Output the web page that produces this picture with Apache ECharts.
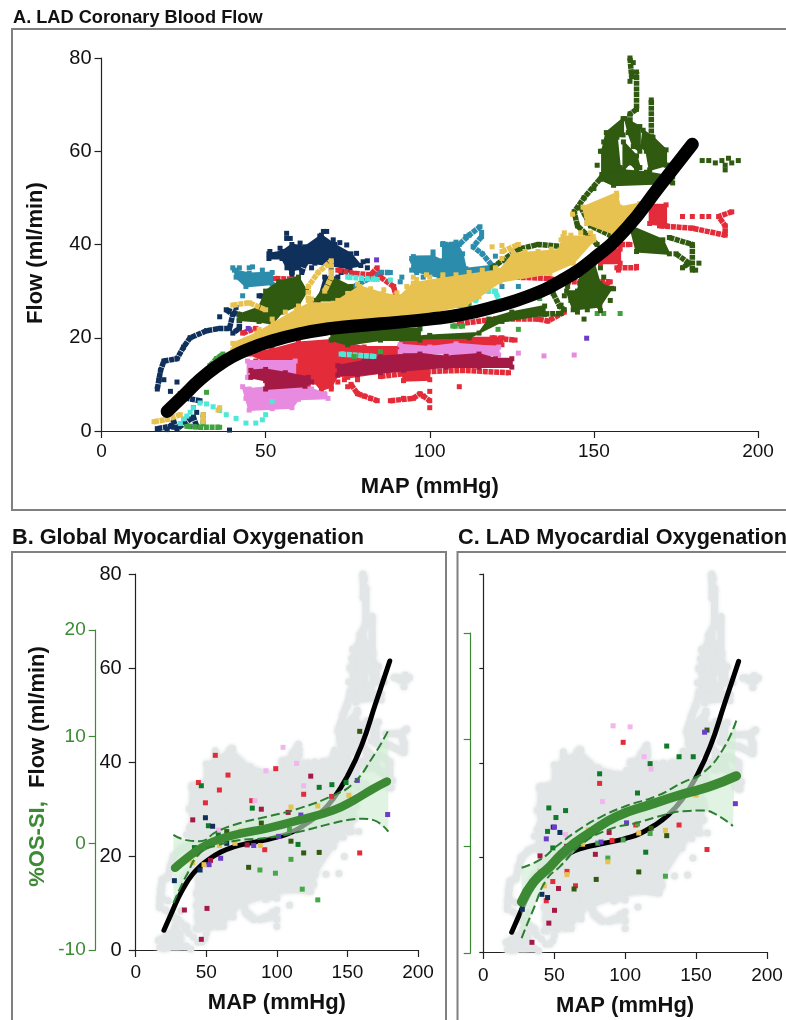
<!DOCTYPE html>
<html><head><meta charset="utf-8">
<style>html,body{margin:0;padding:0;background:#fff}#c{width:786px;height:1020px}</style>
<script src="https://cdn.jsdelivr.net/npm/echarts@6/dist/echarts.min.js"></script>
</head><body><div id="c"></div>
<script>
// ---------- Panel A: flow vs MAP (x = MAP, y = flow) ----------
const flowCurve = [[20,4.2],[25,7.6],[30,11],[35,13.8],[40,16],[45,17.6],[50,18.9],[60,20.8],[70,22],[80,22.7],[90,23.3],[100,24],[110,25],[120,26.7],[130,28.9],[140,32.2],[150,37],[160,43.5],[170,52.5],[175,57],[180,61.5]];

const navyBlobs = [[[51,38],[55,38.5],[58,40],[62,39.5],[67,42],[71,40],[76,38],[79,35.5],[75,35],[70,35.5],[65,36],[62,36],[60,35],[58,34.2],[56.5,35],[55,37],[51,37]],[[66,28],[68,33],[72,33],[72,29]],[[71,18],[80,17.5],[82,15.5],[72,15.5]]];
const navyTrails = [[[17,9],[17.5,11],[18,13],[19,15],[23,15.5],[25,18],[27,20],[32,21.5],[36,22],[39,22],[40,25],[38,26],[42,25],[42,22],[40,21]],[[17,0.5],[21,1],[22,2],[23,0.5],[28,3],[29,1]],[[24,8],[26,7],[30,6.5]],[[48,29],[55,28.5]],[[58,37],[58,33.5]],[[62,36],[61,34]],[[73,36],[73,34]]];
const navyDots = [[51.3,38.5],[54.4,39.2],[56.4,41.3],[56.4,42.4],[57.5,41.3],[60.5,40.3],[64.5,39.9],[66.5,41.8],[67.6,42.8],[68.6,42.8],[70.6,41],[72.6,40.4],[74.7,39.9],[77.7,38.1],[79.7,36.3],[81,35],[81,36.5],[39,0.2],[21,8.5],[23,10.5],[19,11],[27,1],[64,35],[70,34.8],[75.7,34.5],[36,24.5],[41,26.5],[20,0.3],[22,0.8],[28,5],[29,4]];

const tealBlobs = [[[40.5,34.5],[45,33.8],[52,34],[52,31.5],[44,31],[41,33]],[[95,37.4],[101,37.5],[104,36.5],[104,40],[108,40.5],[110,38],[111,34.8],[120,35.5],[119,33.5],[103,33],[94.5,34.5]]];
const tealTrails = [[[104,40],[109,40],[112,42],[115.3,43.8]],[[115.8,41.7],[113.2,39.5],[116,38],[119,35.5]],[[77,31],[85,34],[88,34]],[[94.5,37],[96,34]]];
const tealDots = [[43,29],[45,35],[46,35.2],[91,32],[120,37.5],[123,36.5],[125,35],[91.5,33],[98,33],[106,31.8],[117,31.5],[122,31],[127,31],[101,38.4],[104,40.2],[111,41.7],[40,35],[42,35],[49,34.5],[115.8,42.6]];

const redBlobs = [[[45,16.5],[52,17.5],[60,19],[70,19.5],[80,18],[97,18],[97,13.5],[85,12.5],[75,11.5],[72,12],[70,9.5],[67,8.8],[65,10.5],[60,10.5],[55,13],[50,15]],[[91,20],[100,20],[110,20],[122,20],[122,18.5],[100,18.5],[91,18]],[[91,18],[99,18],[100,11],[92,10.8]],[[167,48.5],[172,48.5],[172,44],[167,44.5]],[[152,39],[158,39],[158,36],[152,36]]];
const redTrails = [[[76,10],[78,8],[80,7.5],[82,7],[84,6.5]],[[88,6.5],[95,7],[97,8],[100,6.5]],[[85,11.7],[97,12.7],[110,13],[124,12.5]],[[119,20],[126,19.5]],[[109,23],[120,24],[133,24],[136,23.6],[141,25.5]],[[126,33],[136,32.7],[142,32],[155,32],[150,29.5],[143,29]],[[157,35],[163,35]],[[158,40],[161,40]],[[170,44],[180,43.5],[190,42],[190,44],[188,46],[192,47]],[[72,34.5],[77,33.8],[82,33.5],[84,35]],[[53,32.7],[60,32.5]],[[43,21],[47,22]],[[85,33],[89,31],[90,28]],[[150,47],[150,45]]];
const redDots = [[47,15],[50,15],[52,15],[55,15],[58,15],[177,46],[180,46],[183,46],[185,46],[76,13],[78,11],[75,9.5],[98,7.5],[92,7],[100,8.5],[109,9.5],[100,5],[157.5,34.5],[163,35.3],[61,9.5],[63,10],[66,8],[68,7.8],[70,9],[72,10.5],[74,11],[57,11.5]];

const pinkBlobs = [[[43,9.5],[45,9],[60,10],[64,9],[68,8],[69,7],[60,6.8],[58,5],[45,4.5],[44,7]],[[44.5,15],[59,15],[59,11.5],[44.5,11.5]],[[91,18.5],[100,18],[108,18.7],[121,18],[121,16.3],[110,16.3],[100,16.8],[91,17]]];
const pinkDots = [[127,16.7],[134.8,16.1],[144,16.3],[46,5],[52,4.8],[65,7.5]];

const crimsonBlobs = [[[45.5,13],[50,13.2],[56,12.5],[63,11.5],[64,10.5],[62,9.6],[50,9],[50,10.8],[45.5,11.5]],[[72,12],[72,14],[80,15],[85,16],[97,16.5],[105,16],[115,16.5],[120,15.5],[125,15.5],[125,13.7],[115,13.7],[105,13.7],[92,13],[85,12.5],[78,12]]];

const cyanTrails = [[[73,16.5],[83,16]],[[91,21.7],[97,21.7]],[[114,28],[115,30],[120,30],[121,28]],[[75,33],[84,32.5]]];
const cyanDots = [[24,1.6],[25,2.6],[26,3.2],[27,4],[28,5],[30,6],[32,5.8],[34,5.2],[36,4.4],[38,3.5],[41,2.7],[44,1.7],[47,1.7],[49,2.4],[50,3.5],[88,32.4],[52,6.3]];

const greenTrails = [[[26,1],[30,0.8],[36,0.8]],[[31,1.5],[31,3.5]],[[33,14],[35,15.5],[37,16.5]],[[105,27],[112,27]],[[107,22.5],[110,22.5]]];
const greenDots = [[32,8.3],[120.8,21.8],[127,21.8],[133.5,28.4],[151,25.2],[153,25.2],[158,25.2],[77,16],[85,17]];

const purpleDots = [[83.8,36.7],[44.7,22],[147.8,19.9]];

const darkGreenBlobs = [[[42,25],[48,26.5],[50,30],[54,32],[60,33],[62.5,30],[60,27],[55,25.5],[52,23],[48,23.5],[42,23.8]],[[65,28],[70,33],[76,31],[78,29.5],[72,28]],[[70,21.5],[97,22],[97,19.5],[85,19.5],[75,18.5],[70,19.5]],[[92,20],[100,20.5],[115,21],[118,24],[125,25.5],[135,26.8],[135,25],[122,23.5],[112,20],[92,19.8]],
 [[153.8,64],[158.9,67],[158.9,63.5],[157,63],[158,56],[152.5,55],[152.5,60]],[[159.5,67],[164,65.3],[164,60],[162,61],[160.5,64]],[[165,64.5],[168,63],[172,60.3],[172,57],[167,56],[166,60],[164.5,61]],[[159,62],[163,59],[164,56.5],[163,56],[161,57.5],[159,56]],[[152.5,55],[158,56],[166,55.5],[174,54.5],[174,53.2],[156,52.7],[152,54]],
 [[161,44],[171,41],[173,38],[163,38.5]],[[145.7,31.7],[146,35.5],[150,36],[151.8,31.7],[155.4,30.6],[151.8,26.7],[143.7,26],[141.7,30],[145,30]]];
const darkGreenTrails = [[[161,80],[161.5,76],[163,77],[163,69],[161,68],[161,64]],[[167.5,71],[167.5,63]],[[153,55],[147,50],[144,47],[145,44],[148,42],[151,40]],[[173,41.5],[180,40],[180,34.5]],[[175,38],[179,36],[177,35]],[[119,35],[127,39],[133,40],[142,39.5]],[[146,48],[149,44],[155,42]],[[137.6,29.5],[139.6,26.7],[141,26]],[[128,25],[140,25.2]]];
const darkGreenDots = [[183,58],[185,58],[187,57.5],[189,58],[190,57],[191,58.5],[192,57.5],[194,58],[190,56],[181,34.5],[182,36],[147,24],[150,52],[153,60],[153,62],[161,75],[162,79],[173,57],[176,57],[158,56.5],[151,57],[152,60],[140,27],[142,31],[144,33],[146,34],[148,36.5],[150,37],[152,35],[153,33],[156,30.5],[155,28],[152,25.8],[148,26],[145,25.5],[143,28],[141,29]];

const goldBlobs = [[[40,17.4],[50.3,20.6],[60,22.5],[80.8,24],[97,25],[111,27],[115,28.8],[121.4,32],[136.6,33.8],[143.7,36],[150,41],[149.8,41.7],[140.6,41.7],[139.6,38.8],[125.4,38],[121.4,34.5],[104,32.7],[95,31.7],[90.9,28.8],[85.8,29.5],[78.7,31],[70.6,27.4],[63.5,27.4],[59.4,26],[52.3,23.1],[47.3,21],[40,18.8]],[[146.7,48],[156.9,51],[158,48],[164,48.8],[155.9,42.4],[147.8,44.5]]];
const goldTrails = [[[63,28],[63,31],[66,34],[70,36.5],[70,33],[68,30]],[[16,2],[20,2.5],[24,3.5]],[[40,27],[45,27.5],[50,26]],[[31,2],[31,3.5]],[[122,38.5],[127,40]]];
const goldDots = [[35.5,4.5],[36,5],[95,33],[99,33.5],[119,39.5],[122,39.8],[141,42.5],[143.5,46.5],[148,47.5],[151,48],[154,48],[157,50.5],[44,19.5],[48,21.8],[52,24],[56,25.5],[60,26.8],[64,28.3],[72,28],[75,29.5],[78,31.5],[82,30.5],[86,30.3],[90,29.6],[93,31],[96,32.5],[100,33],[104,33.5],[108,33.5],[112,34],[116,34.5],[120,35],[122,37],[125,38.8],[129,38.5],[133,38.5],[137,39],[140,41],[143,42],[146,42.5],[149,42.5]];

// Body of the pale cloud behind panels B and C
const grayBody = [[43,4.5],[62,5],[69,9],[93,11.3],[126,14],[127,16],[140,22],[155,28],[148,40],[142,42],[130,39],[119,39.6],[112,41],[100,37.5],[81,39],[67,42.5],[50,39.6],[50,36],[40,34.7],[38,30],[44,20],[43,12]];

// ---------- Panels B and C: %OS-SI readings on the green axis ----------
const bCenter = [[27.9,-2.3],[36,-1.4],[45.6,-0.5],[57.4,0.3],[74,0.9],[93,1.4],[116.4,2.2],[140,3.1],[154,4],[168,5.1],[178,5.8]];
const bUpper = [[26.7,0.8],[36,0.3],[45.6,0.2],[57.4,1.1],[74,1.9],[93,2.5],[116.4,3.3],[140,4.5],[154,5.6],[168,8.1],[179,10.6]];
const bLower = [[26.7,-5.6],[36,-3],[45.6,-0.9],[57.4,-0.2],[74,0.3],[93,0.5],[116.4,1.1],[140,1.9],[154,2.25],[161,2.3],[168,2.2],[179,1.1]];
const cCenter = [[27,-5.2],[35.2,-3.4],[47,-1.9],[58.7,-0.3],[75,1.25],[94,2.8],[117.4,3.9],[140.8,4.9],[159.6,5.6],[178.4,6.6]];
const cUpper = [[27,-2],[40,-1.25],[51.6,0],[65.7,1.4],[82,2.7],[101,3.8],[122,4.7],[140.8,6],[155,6.9],[169,9.1],[178.4,11.8]];
const cLower = [[27,-8.6],[35,-6],[44.6,-3.1],[54,-1.9],[70.4,0.3],[89,1.6],[108,2.2],[129,3],[140.8,3.3],[155,3.35],[164,3],[176,1.9]];

const bRed = [[56.4,8.25],[65.4,6.4],[59.3,5],[44.4,5.7],[49.4,3.8],[99.2,7],[119,4.6],[138.8,4.4],[91.4,-0.6],[158.7,-0.9],[82.2,4]];
const bCrimson = [[40.4,2.2],[89,3.2],[108,2.9],[124,6.3],[34.5,-6.25],[50.5,-6.1],[46.5,-9],[53,-1.6],[79,-0.15]];
const bDeepGreen = [[46.5,5.4],[51.5,1.65],[82.6,3.3],[130,5.25],[139,5.5],[149,5.7],[41.6,-0.4],[115,-0.1],[58.5,0.8]];
const bGreen = [[110,-1.5],[88,-2.5],[99,-2.8],[118,-4.3],[129,-5.3],[109,1.3]];
const bDarkGreen = [[158.7,10.5],[80,-2.25],[110,0.2],[119,-0.9],[130,-0.85],[64.5,1.1],[89,1.9]];
const bNavy = [[27.4,-3.5],[49.4,2.4],[54.5,1.6],[45.6,-2.5],[64.5,0]];
const bGold = [[40.4,-1.8],[43.4,-1],[48.4,-2],[59.3,-0.2],[70.4,0],[74.4,1.15],[88.3,-0.2],[110,3.4],[129,3.5],[151,4.5]];
const bPurple = [[157,5.9],[178.5,2.7],[83.6,-0.2],[101.3,0.65],[60.2,-1.4],[52,-2],[117,2.65]];
const bPink = [[104.4,9],[114,7.5],[92.3,6.8],[119,5.4],[84.5,4],[58.5,1.25]];

const cRed = [[98.6,9.75],[82,5.9],[138,2],[157.7,-0.3],[90.8,0.55],[59,-2.35],[49,-3.3],[65,-3.7],[44.4,-5.1],[107.5,2]];
const cCrimson = [[40,-0.9],[53,-3.95],[50.2,-6],[46.2,-7.2],[34.3,-9],[79,-0.75],[88.7,1.3],[58.7,0]];
const cDeepGreen = [[82,6.8],[46.2,3.6],[51.2,2.7],[58,3.35],[45.3,1.4],[49,-0.15],[108.7,5],[117.6,7.75],[129.3,9.4],[138,8.4],[148,8.4],[114.5,-0.55]];
const cGreen = [[128.4,-2.8],[87.8,-1.1],[117.6,1.2],[98.6,0.6],[80.7,0.3],[108.7,2.1]];
const cDarkGreen = [[157.7,10.9],[129.3,1],[109.6,-2.4],[79.6,-3.1],[64,-4],[118.3,1.7]];
const cNavy = [[27.5,-5.9],[45.3,-4.8],[41.3,-4.5],[54,1.3],[49.3,1.8]];
const cPurple = [[156,10.7],[177.7,4],[44.4,0.7],[50.2,1.8],[101,2.2],[116,4],[83,0.4]];
const cGold = [[150,4.8],[40,-2.35],[48.4,-2],[43,-3.7],[59,-2.65],[70,0.2],[74,1.55],[87.8,-1.45],[109.6,1.25],[128.4,1.5]];
const cPink = [[91.5,11.3],[103.5,11.2],[113.4,8.4],[118.3,7.25],[84,4.2],[58,1.1]];

const mapTicks = [0,50,100,150,200];
const flowTicks = [0,20,40,60,80];
const osTicks = [-10,0,10,20];

// ---------- styling ----------
const C = {navy:'#10305c',teal:'#2b8cab',red:'#e32b3a',pink:'#e88ae0',crimson:'#a51a45',cyan:'#4fe8d8',green:'#3ea33e',purple:'#6a3cc8',dark:'#2f5a10',gold:'#e8c250',black:'#000',lightPink:'#f2b5ee',deep:'#0e7a2a',osLine:'#3c8a34',osDash:'#2c7f30',gray:'#e2e6e6'};
const layers = [
 {color:C.navy,polys:navyBlobs,trails:navyTrails,dots:navyDots},
 {color:C.teal,polys:tealBlobs,trails:tealTrails,dots:tealDots},
 {color:C.red,polys:redBlobs,trails:redTrails,dots:redDots},
 {color:C.pink,polys:pinkBlobs,trails:[],dots:pinkDots},
 {color:C.crimson,polys:crimsonBlobs,trails:[],dots:[]},
 {color:C.cyan,polys:[],trails:cyanTrails,dots:cyanDots},
 {color:C.green,polys:[],trails:greenTrails,dots:greenDots},
 {color:C.purple,polys:[],trails:[],dots:purpleDots},
 {color:C.dark,polys:darkGreenBlobs,trails:darkGreenTrails,dots:darkGreenDots},
 {color:C.gold,polys:goldBlobs,trails:goldTrails,dots:goldDots}
];
const grayLayer = {polys:[grayBody],trails:[],dots:[]};
const FONT = '"Liberation Sans", Arial, sans-serif';

function cloudSeries(layer, axis, z, color, size, lineW, blur, dash, sym){
  const out = [];
  out.push({type:'custom',coordinateSystem:'cartesian2d',xAxisIndex:axis,yAxisIndex:axis,z:z,silent:true,animation:false,
    clip:false,data:[[0,0]],
    renderItem:function(params,api){
      const kids=[];
      layer.polys.forEach(p=>kids.push({type:'polygon',shape:{points:p.map(q=>api.coord(q))},style:{fill:color,stroke:color,lineWidth:2,shadowBlur:blur,shadowColor:color}}));
      layer.trails.forEach(p=>kids.push({type:'polyline',shape:{points:p.map(q=>api.coord(q))},style:{fill:null,stroke:color,lineWidth:lineW,lineJoin:'bevel',lineDash:dash,shadowBlur:blur,shadowColor:color}}));
      return {type:'group',children:kids};
    }});
  const pts=[];
  layer.polys.forEach(p=>p.forEach(q=>pts.push(q)));
  layer.trails.forEach(p=>p.forEach(q=>pts.push(q)));
  layer.dots.forEach(q=>pts.push(q));
  out.push({type:'scatter',xAxisIndex:axis,yAxisIndex:axis,z:z,silent:true,animation:false,symbol:sym,symbolSize:size,data:pts,itemStyle:{color:color,opacity:1,shadowBlur:blur,shadowColor:color},clip:false});
  return out;
}
function marks(data,color,ax){
  return {type:'scatter',xAxisIndex:ax,yAxisIndex:ax,z:30,silent:true,animation:false,symbol:'rect',symbolSize:5,data:data,itemStyle:{color:color,opacity:1}};
}
function line(data,color,width,ax,z,dash){
  return {type:'line',xAxisIndex:ax,yAxisIndex:ax,z:z,silent:true,animation:false,smooth:0.5,showSymbol:false,symbol:'none',data:data,lineStyle:{color:color,width:width,cap:dash?'butt':'round',type:dash?[9,4]:'solid'}};
}
function band(up,low,ax){
  return {type:'custom',coordinateSystem:'cartesian2d',xAxisIndex:ax,yAxisIndex:ax,z:22,silent:true,animation:false,data:[[0,0]],
    renderItem:function(params,api){
      const pts=up.concat(low.slice().reverse()).map(q=>api.coord(q));
      return {type:'polygon',shape:{points:pts},style:{fill:'rgba(206,238,210,0.62)'}};
    }};
}

const axisBase = {axisLine:{onZero:false,lineStyle:{color:'#222',width:1.2}},axisTick:{length:7,lineStyle:{color:'#222',width:1.2}},splitLine:{show:false},axisLabel:{color:'#111',fontFamily:FONT,fontSize:19}};
function xAxisOf(grid,margin,gap,visible){
  if(!visible) return {type:'value',gridIndex:grid,min:0,max:200,show:false};
  return Object.assign({},axisBase,{type:'value',gridIndex:grid,min:0,max:200,interval:50,
    name:'MAP (mmHg)',nameLocation:'middle',nameGap:gap,nameTextStyle:{fontFamily:FONT,fontWeight:'bold',fontSize:22,color:'#111'},
    axisLabel:Object.assign({},axisBase.axisLabel,{margin:margin,fontSize:19,formatter:v=>mapTicks.includes(v)?String(v):''})});
}
function flowAxis(grid,labels,margin){
  return Object.assign({},axisBase,{type:'value',gridIndex:grid,min:0,max:80,interval:20,
    axisLabel:Object.assign({},axisBase.axisLabel,{show:labels,fontSize:20,margin:margin,formatter:v=>flowTicks.includes(v)?String(v):''})});
}
function osAxis(grid,offset,labels){
  return {type:'value',gridIndex:grid,min:-10,max:20,interval:10,offset:offset,
    axisLine:{onZero:false,lineStyle:{color:C.osLine,width:1.2}},axisTick:{length:7,lineStyle:{color:C.osLine,width:1.2}},splitLine:{show:false},
    axisLabel:{show:labels,color:C.osLine,fontFamily:FONT,fontSize:19,margin:10,formatter:v=>osTicks.includes(v)?String(v):''}};
}

const series=[];
layers.forEach((l,i)=>{ series.push(...cloudSeries(l,0,2+i,l.color,5,5.5,0,[5,0.7],'rect')); });
series.push(line(flowCurve,C.black,13,0,20));
[1,3].forEach(flowAx=>{
  series.push(...cloudSeries(grayLayer,flowAx,2,C.gray,7,7,5,null,'circle'));
  layers.forEach(l=>{ series.push(...cloudSeries(l,flowAx,2,C.gray,7,7,4,null,'circle')); });
  series.push(line(flowCurve,C.black,5,flowAx,20));
});
// Panel B
series.push(band(bUpper,bLower,2),
 marks(bRed,C.red,2),marks(bCrimson,C.crimson,2),marks(bDeepGreen,C.deep,2),marks(bGreen,'#45a845',2),marks(bDarkGreen,C.dark,2),marks(bNavy,C.navy,2),marks(bGold,C.gold,2),marks(bPurple,C.purple,2),marks(bPink,C.lightPink,2),
 line(bCenter,C.osLine,8.5,2,35),line(bUpper,C.osDash,2,2,36,true),line(bLower,C.osDash,2,2,36,true));
// Panel C
series.push(band(cUpper,cLower,4),
 marks(cRed,C.red,4),marks(cCrimson,C.crimson,4),marks(cDeepGreen,C.deep,4),marks(cGreen,'#45a845',4),marks(cDarkGreen,C.dark,4),marks(cNavy,C.navy,4),marks(cGold,C.gold,4),marks(cPurple,C.purple,4),marks(cPink,C.lightPink,4),
 line(cCenter,C.osLine,9.5,4,35),line(cUpper,C.osDash,2,4,36,true),line(cLower,C.osDash,2,4,36,true));

function box(x,y,w,h){return {type:'rect',z:-1,silent:true,shape:{x:x,y:y,width:w,height:h},style:{fill:'none',stroke:'#808080',lineWidth:2}};}
function txt(t,x,y,size,color,rot,align){return {type:'text',x:x,y:y,rotation:rot||0,silent:true,z:50,style:{text:t,fontFamily:FONT,fontWeight:'bold',fontSize:size,fill:color,textAlign:align||'left',textVerticalAlign:'middle'}};}

const chart=echarts.init(document.getElementById('c'),null,{renderer:'canvas',width:786,height:1020});
chart.setOption({
  backgroundColor:'#fff',animation:false,
  grid:[
    {left:101.5,width:656.5,top:58,height:373},
    {left:135.7,width:282.3,top:574,height:376},
    {left:135.7,width:282.3,top:630,height:320},
    {left:483.3,width:283.7,top:574,height:378},
    {left:483.3,width:283.7,top:633,height:320}
  ],
  xAxis:[xAxisOf(0,11,45,true),xAxisOf(1,13,42,true),xAxisOf(2,0,0,false),xAxisOf(3,14,43,true),xAxisOf(4,0,0,false)],
  yAxis:[flowAxis(0,true,10),flowAxis(1,true,14),osAxis(2,40,true),
         Object.assign(flowAxis(3,false,8),{axisTick:{length:4,lineStyle:{color:'#222',width:1.2}}}),osAxis(4,12.6,false)],
  graphic:{elements:[
    box(12,29,800,481),box(12,552,434,480),box(457.5,552,340,480),
    txt('A. LAD Coronary Blood Flow',13,18,18.2,'#111'),
    txt('B. Global Myocardial Oxygenation',12,538,21.7,'#111'),
    txt('C. LAD Myocardial Oxygenation',458,538,21.7,'#111'),
    txt('Flow (ml/min)',36,253,22,'#111',Math.PI/2,'center'),
    txt('Flow (ml/min)',38,717,22,'#111',Math.PI/2,'center'),
    txt('%OS-SI,',38,844,22,C.osLine,Math.PI/2,'center')
  ]},
  series:series
});
</script></body></html>
